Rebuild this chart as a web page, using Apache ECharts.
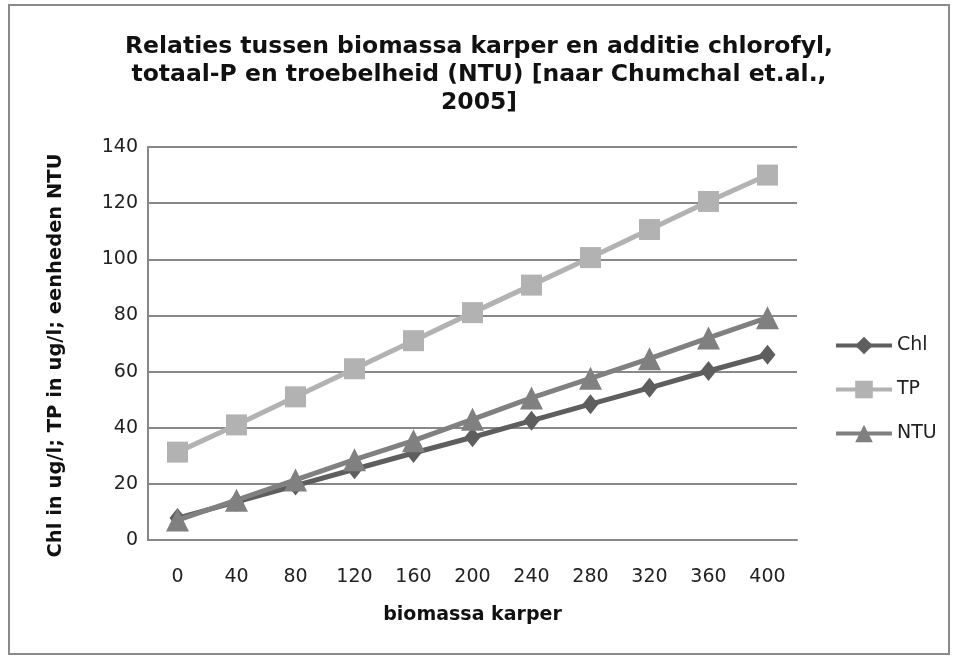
<!DOCTYPE html>
<html>
<head>
<meta charset="utf-8">
<script src="https://cdn.jsdelivr.net/npm/echarts@6/dist/echarts.min.js"></script>
<style>
  html, body { margin: 0; padding: 0; background: #fff; }
  #frame { position: absolute; left: 8px; top: 4px; width: 938px; height: 647px; border: 2px solid #8a8a8a; }
  #chart { position: absolute; left: 0; top: 0; width: 958px; height: 659px; }
</style>
</head>
<body>
<div id="frame"></div>
<div id="chart"></div>
<script>
var categories = ["0", "40", "80", "120", "160", "200", "240", "280", "320", "360", "400"];
var chlValues = [7.8, 13.6, 19.4, 25.2, 31, 36.6, 42.5, 48.4, 54.2, 60.2, 66];
var tpValues = [31.3, 41, 51, 61, 71, 81, 90.8, 100.6, 110.6, 120.6, 130];
var ntuValues = [7.1, 14.2, 21.4, 28.6, 35.4, 43, 50.6, 57.6, 64.6, 72, 79.2];

var chart = echarts.init(document.getElementById("chart"));

var fontFam = "DejaVu Sans";

chart.setOption({
  animation: false,
  title: {
    text: "Relaties tussen biomassa karper en additie chlorofyl,\ntotaal-P en troebelheid (NTU) [naar Chumchal et.al.,\n2005]",
    left: "center",
    top: 28,
    textStyle: { fontFamily: fontFam, fontWeight: "bold", fontSize: 23.5, lineHeight: 28, color: "#111" }
  },
  legend: {
    orient: "vertical",
    left: 829,
    top: 331,
    itemWidth: 56,
    itemHeight: 22,
    itemGap: 25,
    lineStyle: { width: 4 },
    textStyle: { fontFamily: fontFam, fontSize: 19, color: "#222" },
    data: ["Chl", "TP", "NTU"]
  },
  grid: { left: 148, right: 161, top: 147, bottom: 119 },
  xAxis: {
    type: "category",
    data: categories,
    name: "biomassa karper",
    nameLocation: "middle",
    nameGap: 66,
    nameTextStyle: { fontFamily: fontFam, fontWeight: "bold", fontSize: 19, color: "#111" },
    axisLine: { lineStyle: { color: "#888", width: 2 } },
    axisTick: { show: false },
    axisLabel: { fontFamily: fontFam, fontSize: 19, color: "#222", margin: 28 }
  },
  yAxis: {
    type: "value",
    min: 0,
    max: 140,
    interval: 20,
    name: "Chl in ug/l; TP in ug/l; eenheden NTU",
    nameLocation: "middle",
    nameGap: 82,
    nameTextStyle: { fontFamily: fontFam, fontWeight: "bold", fontSize: 19.5, color: "#111", padding: [0, 24, 0, 0] },
    axisLine: { show: true, lineStyle: { color: "#888", width: 2 } },
    axisTick: { show: false },
    axisLabel: { fontFamily: fontFam, fontSize: 19, color: "#222", margin: 10 },
    splitLine: { lineStyle: { color: "#888", width: 2 } }
  },
  series: [
    {
      name: "Chl",
      type: "line",
      data: chlValues,
      symbol: "diamond",
      symbolSize: [16, 20],
      lineStyle: { color: "#5e5e5e", width: 5 },
      itemStyle: { color: "#5e5e5e" },
      z: 3
    },
    {
      name: "TP",
      type: "line",
      data: tpValues,
      symbol: "rect",
      symbolSize: 21,
      lineStyle: { color: "#b2b2b2", width: 5 },
      itemStyle: { color: "#b2b2b2" },
      z: 2
    },
    {
      name: "NTU",
      type: "line",
      data: ntuValues,
      symbol: "triangle",
      symbolSize: [23, 23],
      lineStyle: { color: "#808080", width: 5 },
      itemStyle: { color: "#808080" },
      z: 4
    }
  ]
});
</script>
</body>
</html>
